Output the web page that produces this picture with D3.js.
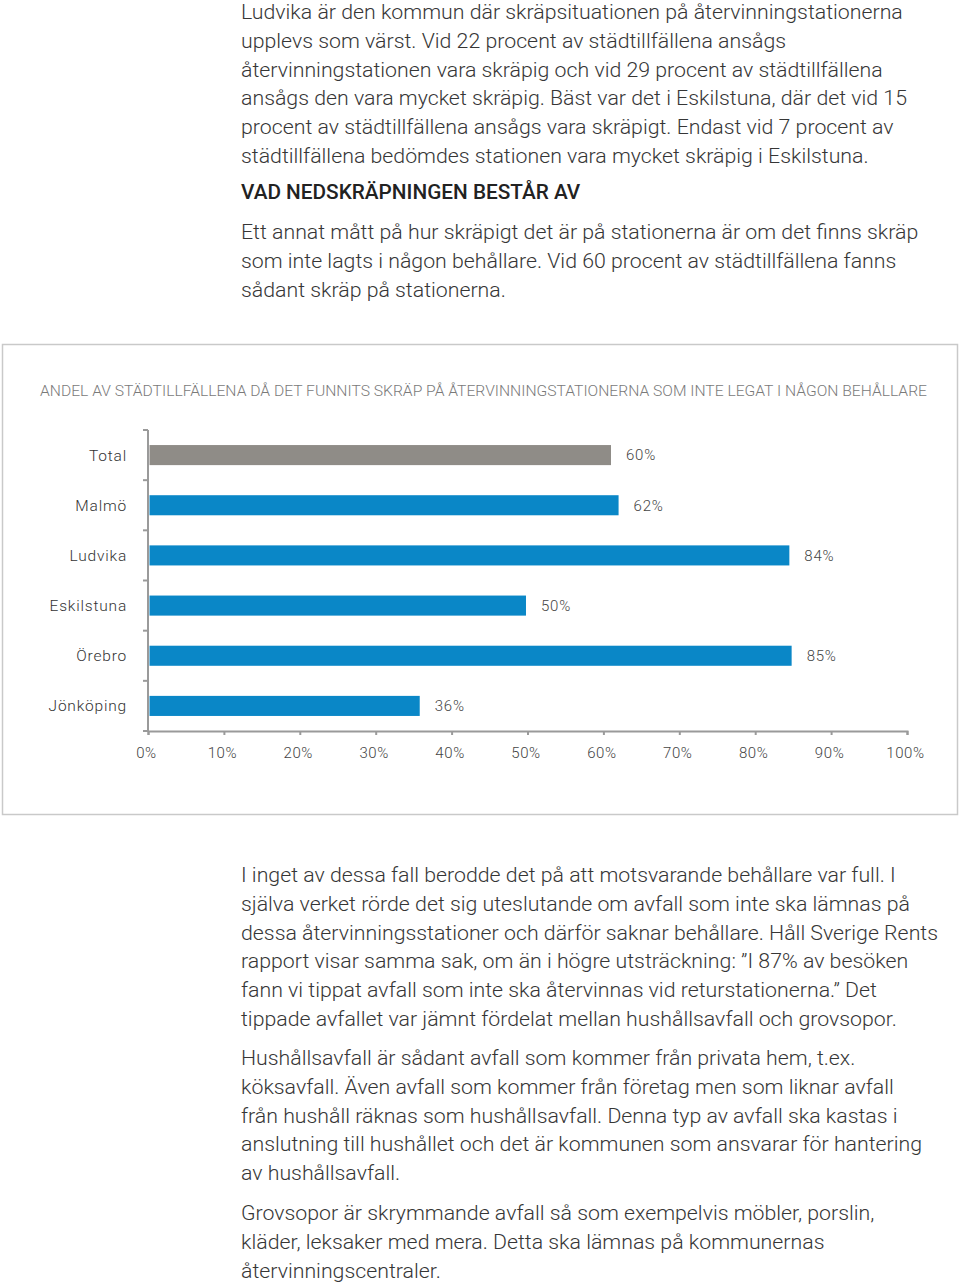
<!DOCTYPE html>
<html>
<head>
<meta charset="utf-8">
<script src="https://cdn.jsdelivr.net/npm/d3@7"></script>
<style>
  html, body { margin: 0; padding: 0; background: #fff; }
  svg { display: block; }
</style>
</head>
<body>
<svg id="page" width="960" height="1284"></svg>
<script>
// ---------- data ----------
const categories = ["Total", "Malmö", "Ludvika", "Eskilstuna", "Örebro", "Jönköping"];
const values = [61, 62, 84.5, 49.8, 84.8, 35.8];
const valueLabels = ["60%", "62%", "84%", "50%", "85%", "36%"];
const xTickValues = [0, 10, 20, 30, 40, 50, 60, 70, 80, 90, 100];
const chartTitle = "ANDEL AV STÄDTILLFÄLLENA DÅ DET FUNNITS SKRÄP PÅ ÅTERVINNINGSTATIONERNA SOM INTE LEGAT I NÅGON BEHÅLLARE";

const paraTop1 = [
  "Ludvika är den kommun där skräpsituationen på återvinningstationerna",
  "upplevs som värst. Vid 22 procent av städtillfällena ansågs",
  "återvinningstationen vara skräpig och vid 29 procent av städtillfällena",
  "ansågs den vara mycket skräpig. Bäst var det i Eskilstuna, där det vid 15",
  "procent av städtillfällena ansågs vara skräpigt. Endast vid 7 procent av",
  "städtillfällena bedömdes stationen vara mycket skräpig i Eskilstuna."
];
const headingText = "VAD NEDSKRÄPNINGEN BESTÅR AV";
const paraTop2 = [
  "Ett annat mått på hur skräpigt det är på stationerna är om det finns skräp",
  "som inte lagts i någon behållare. Vid 60 procent av städtillfällena fanns",
  "sådant skräp på stationerna."
];
const paraBottom1 = [
  "I inget av dessa fall berodde det på att motsvarande behållare var full. I",
  "själva verket rörde det sig uteslutande om avfall som inte ska lämnas på",
  "dessa återvinningsstationer och därför saknar behållare. Håll Sverige Rents",
  "rapport visar samma sak, om än i högre utsträckning: ”I 87% av besöken",
  "fann vi tippat avfall som inte ska återvinnas vid returstationerna.” Det",
  "tippade avfallet var jämnt fördelat mellan hushållsavfall och grovsopor."
];
const paraBottom2 = [
  "Hushållsavfall är sådant avfall som kommer från privata hem, t.ex.",
  "köksavfall. Även avfall som kommer från företag men som liknar avfall",
  "från hushåll räknas som hushållsavfall. Denna typ av avfall ska kastas i",
  "anslutning till hushållet och det är kommunen som ansvarar för hantering",
  "av hushållsavfall."
];
const paraBottom3 = [
  "Grovsopor är skrymmande avfall så som exempelvis möbler, porslin,",
  "kläder, leksaker med mera. Detta ska lämnas på kommunernas",
  "återvinningscentraler."
];

// ---------- layout ----------
const FONT = "Roboto, 'Open Sans', 'Noto Sans', sans-serif";
const svg = d3.select("#page");
const textLeft = 241;
const lineH = 28.8;
const bodySize = 20;
const bodyColor = "#363636";

const bodyG = svg.append("g").attr("class", "body-text");

function paragraph(lines, baseline0) {
  const t = bodyG.append("text")
    .attr("font-family", FONT)
    .attr("font-size", bodySize)
    .attr("font-weight", 300)
    .attr("fill", bodyColor);
  lines.forEach((ln, i) => {
    t.append("tspan").attr("x", 0).attr("y", baseline0 + i * lineH).text(ln);
  });
  return t;
}

paragraph(paraTop1, 19);
bodyG.append("text")
  .attr("font-family", FONT)
  .attr("font-size", 19.5)
  .attr("font-weight", 500)
  .attr("fill", "#222")
  .attr("x", 0).attr("y", 199)
  .text(headingText);
paragraph(paraTop2, 239);
paragraph(paraBottom1, 882);
paragraph(paraBottom2, 1065);
paragraph(paraBottom3, 1220);

// horizontal scale so the first line spans 241..903 like the original narrow face
const firstLine = bodyG.select("text tspan").node();
const natW = firstLine.getComputedTextLength();
const sx = 662 / natW;
bodyG.attr("transform", `translate(${textLeft},0) scale(${sx},1)`);

// ---------- chart box ----------
svg.append("rect")
  .attr("x", 2.5).attr("y", 344.5)
  .attr("width", 955).attr("height", 470)
  .attr("fill", "none")
  .attr("stroke", "#c9c9c9")
  .attr("stroke-width", 1.5);

svg.append("text")
  .attr("x", 40).attr("y", 395.5)
  .attr("font-family", FONT)
  .attr("font-size", 15)
  .attr("font-weight", 300)
  .attr("fill", "#7a7a7a")
  .attr("textLength", 887)
  .attr("lengthAdjust", "spacingAndGlyphs")
  .text(chartTitle);

// scales
const x = d3.scaleLinear().domain([0, 100]).range([148, 907]);
const y = d3.scaleBand().domain(categories).range([430, 731]).paddingInner(0.6).paddingOuter(0.3);

const axisColor = "#9a9a9a";
const chart = svg.append("g");

// bars
chart.selectAll("rect.bar")
  .data(categories)
  .join("rect")
  .attr("class", "bar")
  .attr("x", x(0) + 1.5)
  .attr("y", c => y(c))
  .attr("height", y.bandwidth())
  .attr("width", (c, i) => x(values[i]) - x(0) - 1.5)
  .attr("fill", (c, i) => i === 0 ? "#8f8c87" : "#0a87c7");

// value labels
chart.selectAll("text.val")
  .data(categories)
  .join("text")
  .attr("class", "val")
  .attr("x", (c, i) => x(values[i]) + 15)
  .attr("y", c => y(c) + y.bandwidth() / 2)
  .attr("dy", "0.36em")
  .attr("font-family", FONT)
  .attr("font-size", 15)
  .attr("font-weight", 300)
  .attr("letter-spacing", 0.8)
  .attr("fill", "#444")
  .text((c, i) => valueLabels[i]);

// y axis: line + ticks at band boundaries
const boundaries = d3.range(categories.length + 1).map(i => y.range()[0] + i * y.step());
chart.append("line")
  .attr("x1", x(0)).attr("x2", x(0))
  .attr("y1", boundaries[0]).attr("y2", boundaries[boundaries.length - 1])
  .attr("stroke", axisColor).attr("stroke-width", 2);
chart.selectAll("line.ytick")
  .data(boundaries)
  .join("line")
  .attr("class", "ytick")
  .attr("x1", x(0) - 5).attr("x2", x(0))
  .attr("y1", d => d).attr("y2", d => d)
  .attr("stroke", axisColor).attr("stroke-width", 2);

// category labels
chart.selectAll("text.cat")
  .data(categories)
  .join("text")
  .attr("class", "cat")
  .attr("x", 127)
  .attr("y", c => y(c) + y.bandwidth() / 2)
  .attr("dy", "0.36em")
  .attr("text-anchor", "end")
  .attr("font-family", FONT)
  .attr("font-size", 15.5)
  .attr("font-weight", 300)
  .attr("letter-spacing", 0.8)
  .attr("fill", "#333")
  .text(c => c);

// x axis
const xAxis = d3.axisBottom(x)
  .tickValues(xTickValues)
  .tickSize(4)
  .tickPadding(12)
  .tickFormat(d => d + "%");
const xg = chart.append("g")
  .attr("transform", `translate(0,${boundaries[boundaries.length - 1]})`)
  .call(xAxis);
xg.select(".domain").attr("stroke", axisColor).attr("stroke-width", 2);
xg.selectAll(".tick line").attr("stroke", axisColor).attr("stroke-width", 2);
xg.selectAll(".tick text")
  .attr("font-family", FONT)
  .attr("font-size", 15)
  .attr("font-weight", 300)
  .attr("letter-spacing", 0.6)
  .attr("dx", -2)
  .attr("fill", "#444");
</script>
</body>
</html>
